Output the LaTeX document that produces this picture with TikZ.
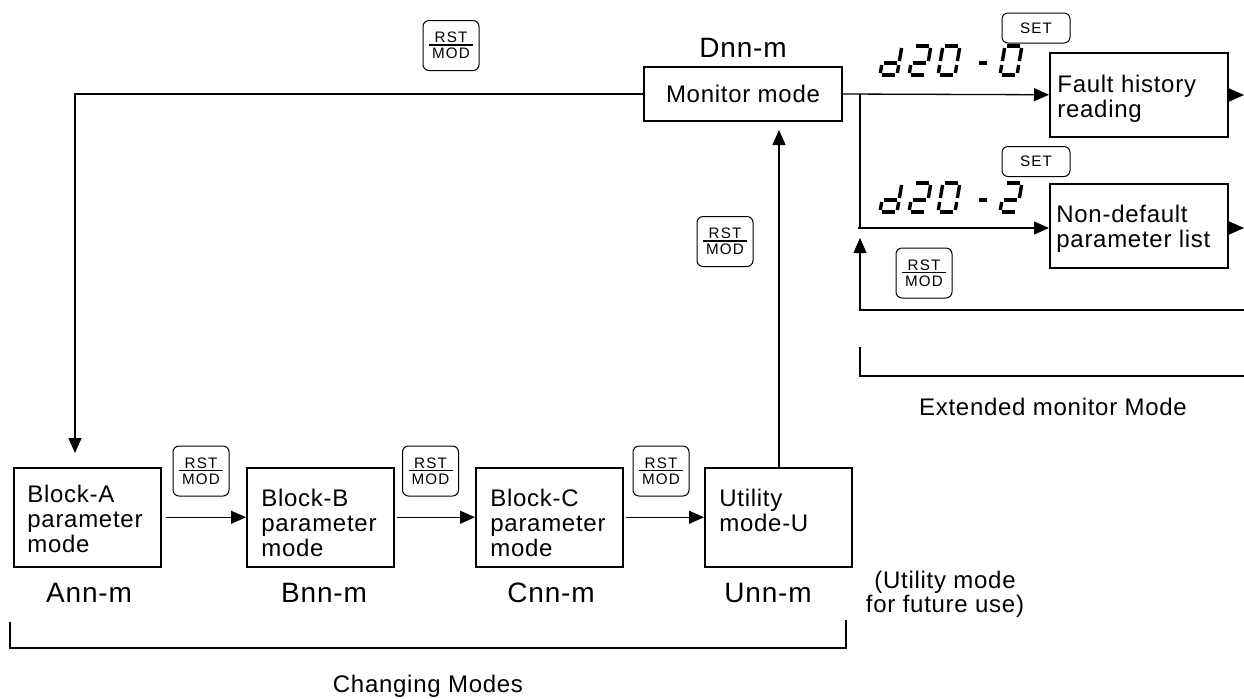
\documentclass[tikz,border=0pt]{standalone}
\usepackage{fontspec}
\setmainfont{Liberation Sans}[LetterSpace=3]
\newfontfamily\keyfont{Liberation Sans}[LetterSpace=8]
\usetikzlibrary{arrows.meta}
\newcommand\rsmodtext{\vbox{\hbox to 22pt{\hss RST\hss}\kern0.8pt\hrule height 0.7pt\kern1.3pt\hbox to 22pt{\hss MOD\hss}}}
\tikzset{
  seg/.style={line width=1.7pt, line cap=butt},
  arr/.style={-{Triangle[length=7.5pt,width=6.5pt]}, line width=0.65pt},
  ln/.style={line width=0.65pt},
  modebox/.style={draw, line width=0.75pt, inner sep=0pt, anchor=north west, minimum width=73.5pt, minimum height=49.5pt},
  extbox/.style={draw, line width=0.75pt, inner sep=0pt, anchor=north west, minimum width=89pt, minimum height=42pt},
  boxtxt/.style={anchor=north west, inner sep=0pt, align=left, font=\fontsize{12}{12.5}\selectfont},
  codetxt/.style={anchor=base, inner sep=0pt, font=\fontsize{14}{16}\selectfont},
  keyrm/.style={draw, line width=0.5pt, rounded corners=3pt, minimum width=28pt, minimum height=25pt, inner sep=0pt, font=\keyfont\fontsize{7.6}{8}\selectfont},
  keyset/.style={draw, line width=0.5pt, rounded corners=3pt, minimum width=34pt, minimum height=15pt, inner sep=0pt, font=\keyfont\fontsize{7.6}{8}\selectfont},
}
\newcommand\segA{\draw[seg] (2,-29) -- (15,-29);}
\newcommand\segB{\draw[seg] (17,-27) -- (17,-14);}
\newcommand\segC{\draw[seg] (17,-10) -- (17,-2);}
\newcommand\segD{\draw[seg] (2,0) -- (15,0);}
\newcommand\segE{\draw[seg] (0,-2) -- (0,-10);}
\newcommand\segF{\draw[seg] (0,-14) -- (0,-27);}
\newcommand\segG{\draw[seg] (2,-12) -- (15,-12);}
\newcommand\segDash{\draw[seg] (2,-12) -- (10,-12);}
\newcommand\dgt[3]{\begin{scope}[shift={(#1,#2)}, xslant=0.17]#3\end{scope}}
\newcommand\dispd[1]{%
  \dgt{880}{#1}{\segB\segC\segD\segE\segG}%
  \dgt{909}{#1}{\segA\segB\segG\segE\segD}%
  \dgt{938}{#1}{\segA\segB\segC\segD\segE\segF}%
  \dgt{975}{#1}{\segDash}}
\begin{document}
\begin{tikzpicture}[x=0.5pt, y=-0.5pt]
\useasboundingbox (0,0) rectangle (1244,698);

% monitor mode
\node[draw, line width=0.75pt, inner sep=0pt, minimum width=99pt, minimum height=27pt, font=\fontsize{12}{12.5}\selectfont] (mon) at (743,94) {Monitor mode};
\node[codetxt] (dnn) at (743,57) {Dnn-m};

% mode boxes
\node[modebox] (A) at (13,467) {};
\node[modebox] (B) at (246,467) {};
\node[modebox] (C) at (475,467) {};
\node[modebox] (U) at (704,467) {};
\node[boxtxt] (At) at (27,485) {Block-A\\parameter\\mode};
\node[boxtxt] (Bt) at (261,489) {Block-B\\parameter\\mode};
\node[boxtxt] (Ct) at (490,489) {Block-C\\parameter\\mode};
\node[boxtxt] (Ut) at (719,489) {Utility\\mode-U};
\node[codetxt] (Al) at (89,602) {Ann-m};
\node[codetxt] (Bl) at (324,602) {Bnn-m};
\node[codetxt] (Cl) at (551,602) {Cnn-m};
\node[codetxt] (Ul) at (768,602) {Unn-m};
\node[anchor=north, inner sep=0pt, align=center, font=\fontsize{12}{12}\selectfont] (note) at (945,571) {(Utility mode\\for future use)};

% extended boxes
\node[extbox] (fault) at (1049,52) {};
\node[extbox] (nd) at (1049,183) {};
\node[boxtxt] (faultt) at (1057,75) {Fault history\\reading};
\node[boxtxt] (ndt) at (1056,205) {Non-default\\parameter list};

% keys
\node[keyrm] (k1) at (451,45.5) {\rsmodtext};
\node[keyrm] (k2) at (725,241.5) {\rsmodtext};
\node[keyrm] (k3) at (924,273) {\rsmodtext};
\node[keyrm] (kab) at (201,471) {\rsmodtext};
\node[keyrm] (kbc) at (430.5,471) {\rsmodtext};
\node[keyrm] (kcu) at (661,471) {\rsmodtext};
\node[keyset] (s1) at (1036,28) {SET};
\node[keyset] (s2) at (1036,161.5) {SET};

% seven segment displays
\dispd{75}
\dgt{1000}{75}{\segA\segB\segC\segD\segE\segF}
\dispd{212}
\dgt{1000}{212}{\segA\segB\segG\segE\segD}

% connectors
\coordinate (lt) at (75,94);
\coordinate (lb) at (75,453);
\draw[arr] (mon.west) -- (lt) -- (lb);
\coordinate (upt) at (779,130);
\draw[arr] (upt |- U.north) -- (upt);
\draw[arr] ([xshift=2pt]A.east) -- (B.west);
\draw[arr] ([xshift=1pt]B.east) -- (C.west);
\draw[arr] ([xshift=1pt]C.east) -- (U.west);
\draw[arr] (mon.east) -- (fault.west);
\coordinate (br) at (860,94);
\coordinate (bb) at (858,228);
\draw[arr] (br) -- (br |- bb) -- (bb) -- (bb -| nd.west);
\coordinate (rr) at (1244,310);
\coordinate (rl) at (860,310);
\coordinate (rt) at (860,238);
\draw[arr] (rr) -- (rl) -- (rt);
\coordinate (fo) at (1244,95);
\draw[arr] (fault.east |- fo) -- (fo);
\coordinate (no) at (1244,228);
\draw[arr] (nd.east |- no) -- (no);

% brackets
\coordinate (cb1) at (10,622);
\coordinate (cb2) at (10,648);
\coordinate (cb3) at (846,648);
\coordinate (cb4) at (846,620);
\draw[ln] (cb1) -- (cb2) -- (cb3) -- (cb4);
\node[anchor=base, inner sep=0pt, font=\fontsize{12}{12}\selectfont] (chm) at (428,692) {Changing Modes};
\coordinate (eb1) at (860,347);
\coordinate (eb2) at (860,376);
\coordinate (eb3) at (1244,376);
\draw[ln] (eb1) -- (eb2) -- (eb3);
\node[inner sep=0pt, font=\fontsize{12}{12}\selectfont] (emm) at (1053,407) {Extended monitor Mode};
\end{tikzpicture}
\end{document}
